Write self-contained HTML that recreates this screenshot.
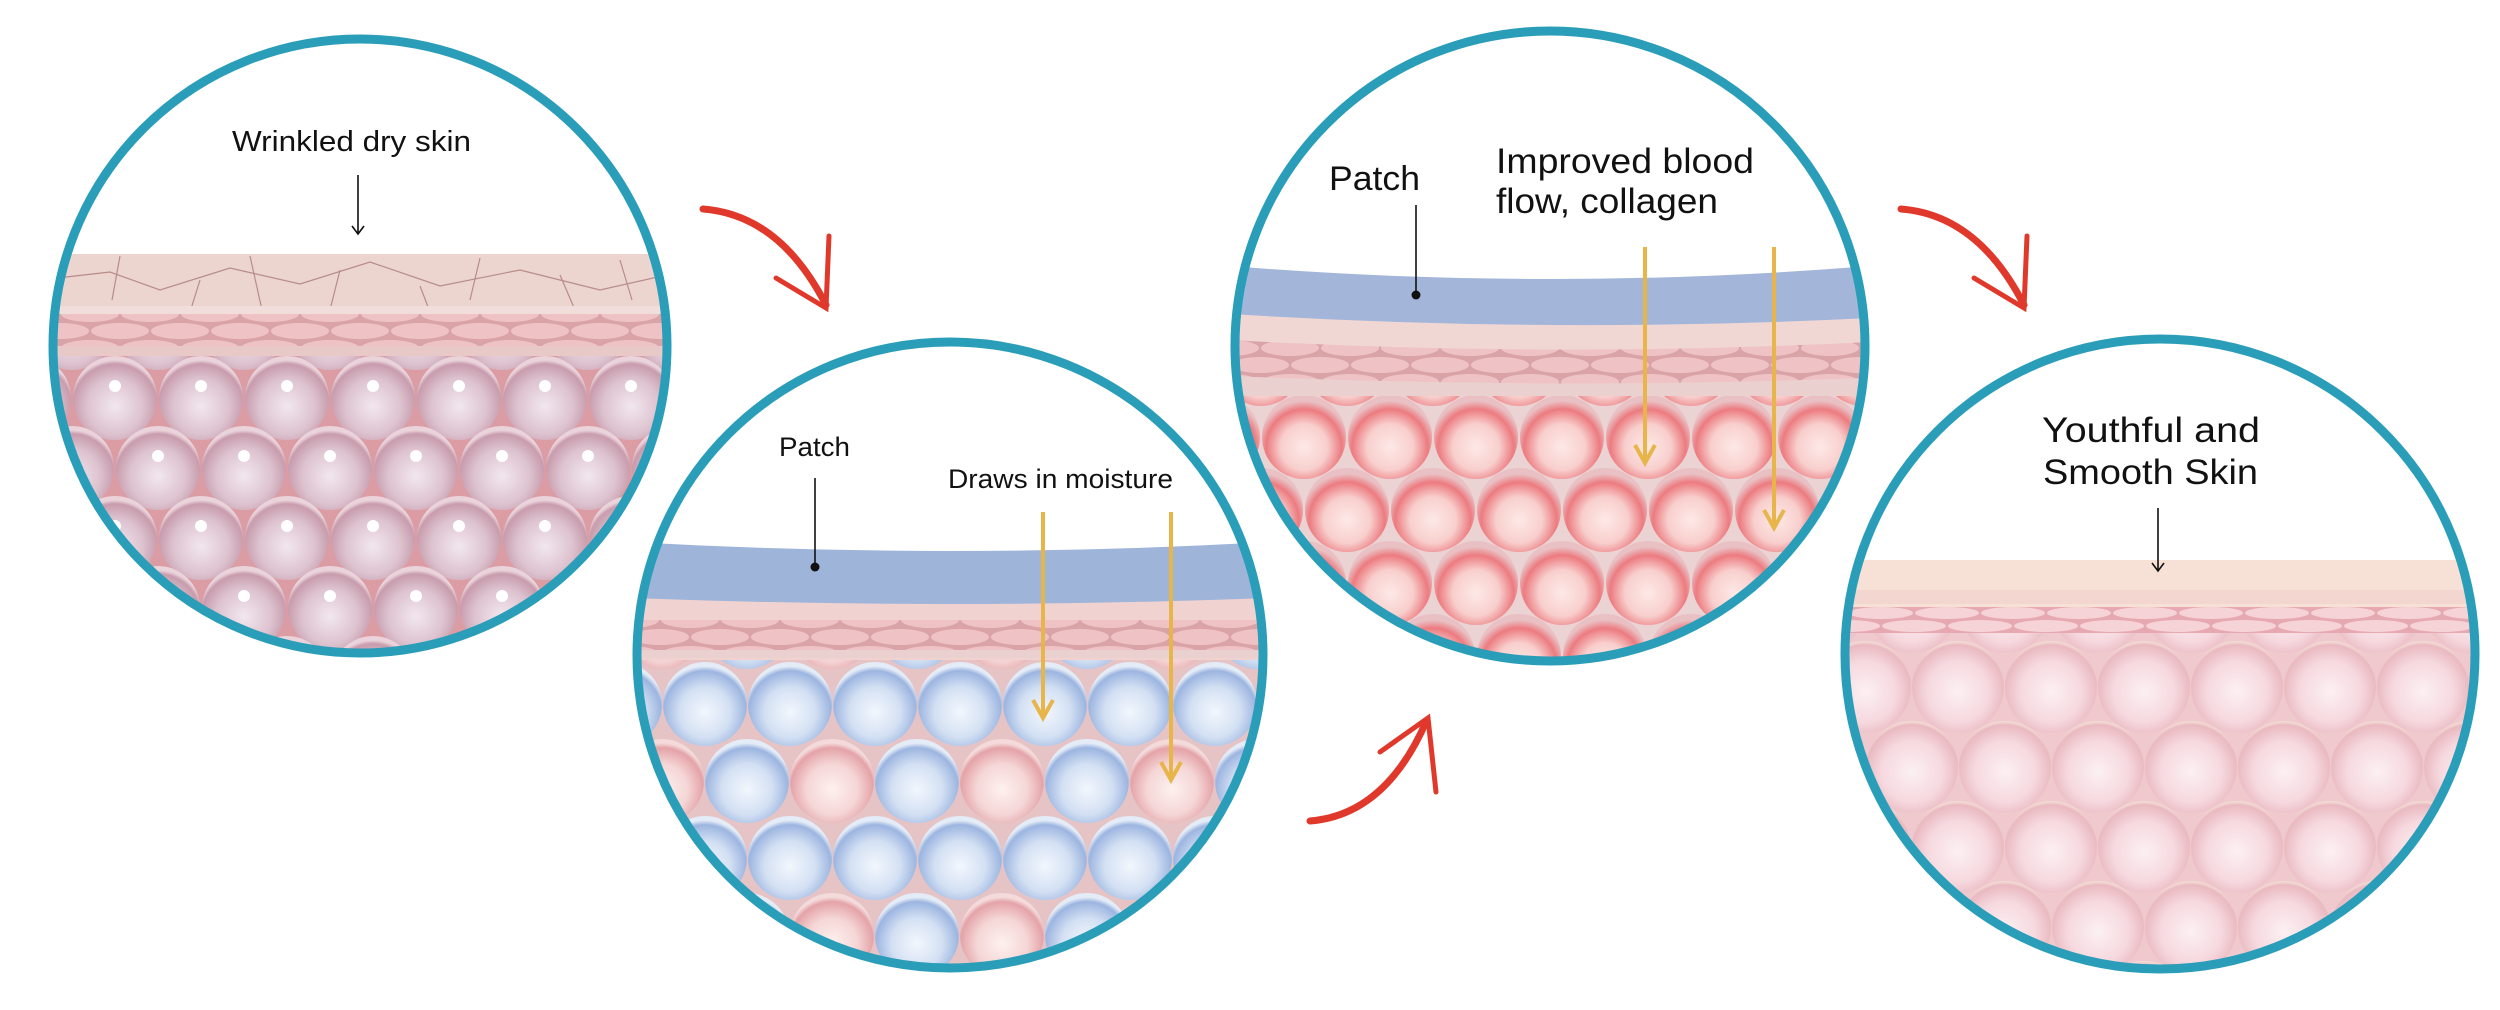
<!DOCTYPE html>
<html><head><meta charset="utf-8"><style>
html,body{margin:0;padding:0;background:#fff}
svg{display:block}
text{font-family:"Liberation Sans",sans-serif;fill:#111}
</style></head><body>
<svg width="2500" height="1010" viewBox="0 0 2500 1010" xmlns="http://www.w3.org/2000/svg">
<defs>
<clipPath id="c1"><circle cx="360" cy="346" r="307"/></clipPath>
<clipPath id="c2"><circle cx="950" cy="655" r="313"/></clipPath>
<clipPath id="c3"><circle cx="1550" cy="346" r="315"/></clipPath>
<clipPath id="c4"><circle cx="2160" cy="654" r="315"/></clipPath>
<radialGradient id="g1" cx=".5" cy=".6" r=".55"><stop offset="0" stop-color="#f2e7ef"/><stop offset=".6" stop-color="#ddc3cf"/><stop offset=".92" stop-color="#c89cad"/><stop offset="1" stop-color="#ead3da"/></radialGradient>
<radialGradient id="gb" cx=".5" cy=".6" r=".55"><stop offset="0" stop-color="#f3f7fd"/><stop offset=".55" stop-color="#d3e0f3"/><stop offset=".9" stop-color="#9cb5e0"/><stop offset="1" stop-color="#e4ecf7"/></radialGradient>
<radialGradient id="gp" cx=".5" cy=".6" r=".55"><stop offset="0" stop-color="#fdf1ef"/><stop offset=".55" stop-color="#f5d6d6"/><stop offset=".9" stop-color="#e4a3a8"/><stop offset="1" stop-color="#f4dadb"/></radialGradient>
<radialGradient id="gr" cx=".5" cy=".62" r=".55"><stop offset="0" stop-color="#fde9e7"/><stop offset=".5" stop-color="#f8cfcd"/><stop offset=".82" stop-color="#ec7b80"/><stop offset="1" stop-color="#e9c0c3"/></radialGradient>
<radialGradient id="g4" cx=".5" cy=".55" r=".55"><stop offset="0" stop-color="#fcf0f2"/><stop offset=".6" stop-color="#f6d9df"/><stop offset=".92" stop-color="#eab9c1"/><stop offset="1" stop-color="#f4e2d8"/></radialGradient>
<pattern id="p1" patternUnits="userSpaceOnUse" x="72" y="356" width="86" height="140">
<rect width="86" height="140" fill="#dc9ca4"/>
<circle cx="0" cy="-28" r="42" fill="url(#g1)"/><circle cx="86" cy="-28" r="42" fill="url(#g1)"/>
<circle cx="43" cy="42" r="42" fill="url(#g1)"/><circle cx="0" cy="112" r="42" fill="url(#g1)"/><circle cx="86" cy="112" r="42" fill="url(#g1)"/>
<circle cx="43" cy="182" r="42" fill="url(#g1)"/>
<circle cx="43" cy="30" r="6" fill="#fff"/><circle cx="0" cy="100" r="6" fill="#fff"/><circle cx="86" cy="100" r="6" fill="#fff"/>
</pattern>
<pattern id="p2" patternUnits="userSpaceOnUse" x="662" y="660" width="170" height="154">
<rect width="170" height="154" fill="#e6c4c6"/>
<circle cx="0" cy="-33" r="42" fill="url(#gp)"/><circle cx="85" cy="-33" r="42" fill="url(#gb)"/><circle cx="170" cy="-33" r="42" fill="url(#gp)"/>
<circle cx="43" cy="44" r="42" fill="url(#gb)"/><circle cx="128" cy="44" r="42" fill="url(#gb)"/>
<circle cx="0" cy="121" r="42" fill="url(#gp)"/><circle cx="85" cy="121" r="42" fill="url(#gb)"/><circle cx="170" cy="121" r="42" fill="url(#gp)"/>
<circle cx="43" cy="198" r="42" fill="url(#gb)"/><circle cx="128" cy="198" r="42" fill="url(#gb)"/>
</pattern>
<pattern id="p3" patternUnits="userSpaceOnUse" x="1261" y="395" width="86" height="146">
<rect width="86" height="146" fill="#ecd3d3"/>
<circle cx="0" cy="-31" r="42" fill="url(#gr)"/><circle cx="86" cy="-31" r="42" fill="url(#gr)"/>
<circle cx="43" cy="42" r="42" fill="url(#gr)"/><circle cx="0" cy="115" r="42" fill="url(#gr)"/><circle cx="86" cy="115" r="42" fill="url(#gr)"/>
<circle cx="43" cy="188" r="42" fill="url(#gr)"/>
</pattern>
<pattern id="p4" patternUnits="userSpaceOnUse" x="1912" y="640" width="93" height="160">
<rect width="93" height="160" fill="#efc9ce"/>
<circle cx="0" cy="-33" r="46" fill="url(#g4)"/><circle cx="93" cy="-33" r="46" fill="url(#g4)"/>
<circle cx="46" cy="47" r="46" fill="url(#g4)"/><circle cx="0" cy="127" r="46" fill="url(#g4)"/><circle cx="93" cy="127" r="46" fill="url(#g4)"/>
<circle cx="46" cy="207" r="46" fill="url(#g4)"/>
</pattern>
<pattern id="cells" patternUnits="userSpaceOnUse" width="60" height="34">
<rect width="60" height="34" fill="#d9a3a8"/>
<ellipse cx="30" cy="8" rx="29" ry="8" fill="#efc3c6"/><ellipse cx="0" cy="25" rx="29" ry="8" fill="#efc3c6"/><ellipse cx="60" cy="25" rx="29" ry="8" fill="#efc3c6"/>
</pattern>
<pattern id="cells4" patternUnits="userSpaceOnUse" x="0" y="607" width="66" height="26">
<rect width="66" height="26" fill="#e7a9b1"/>
<ellipse cx="33" cy="6" rx="32" ry="6" fill="#f6d3d7"/><ellipse cx="0" cy="19" rx="32" ry="6" fill="#f6d3d7"/><ellipse cx="66" cy="19" rx="32" ry="6" fill="#f6d3d7"/>
</pattern>
</defs>

<!-- Circle 1 -->
<g clip-path="url(#c1)">
<rect x="40" y="30" width="640" height="640" fill="#fff"/>
<rect x="40" y="355" width="640" height="320" fill="url(#p1)"/>
<rect x="40" y="254" width="640" height="60" fill="#ecd4cf"/>
<path d="M40 280 L110 272 L160 290 L230 268 L300 284 L370 262 L440 286 L520 270 L600 290 L680 272 M120 256 L112 300 M250 256 L262 310 M340 270 L330 310 M480 258 L470 300 M560 275 L575 310 M200 280 L190 312 M420 286 L430 312 M620 260 L632 300" stroke="#b88c88" stroke-width="1.2" fill="none"/>
<rect x="40" y="306" width="640" height="8" fill="#f1dedb"/>
<rect x="40" y="314" width="640" height="34" fill="url(#cells)"/>
<rect x="40" y="346" width="640" height="10" fill="#e9c9c8"/>
</g>
<circle cx="360" cy="346" r="307" fill="none" stroke="#2a9db8" stroke-width="9"/>
<text x="232" y="151" font-size="29" textLength="239" lengthAdjust="spacingAndGlyphs">Wrinkled dry skin</text>
<path d="M358 175 V234 M352 226 L358 234 L364 226" stroke="#111" stroke-width="1.6" fill="none"/>

<!-- Circle 2 -->
<g clip-path="url(#c2)">
<rect x="630" y="335" width="640" height="640" fill="#fff"/>
<rect x="630" y="650" width="640" height="330" fill="url(#p2)"/>
<path d="M630 542 Q950 560 1270 542 L1270 600 Q950 612 630 600 Z" fill="#9fb4d9"/>
<path d="M630 598 Q950 610 1270 598 L1270 660 L630 660 Z" fill="#f0d3d1"/>
<rect x="630" y="620" width="640" height="32" fill="url(#cells)"/>
<rect x="630" y="650" width="640" height="8" fill="#ead0cf"/>
</g>
<circle cx="950" cy="655" r="313" fill="none" stroke="#2a9db8" stroke-width="9"/>
<text x="779" y="456" font-size="27" textLength="71" lengthAdjust="spacingAndGlyphs">Patch</text>
<path d="M815 478 V566" stroke="#111" stroke-width="1.6"/><circle cx="815" cy="567" r="4.5" fill="#111"/>
<text x="948" y="488" font-size="27" textLength="225" lengthAdjust="spacingAndGlyphs">Draws in moisture</text>
<path d="M1043 512 V718 M1033 700 L1043 718 L1053 700 M1171 512 V780 M1161 762 L1171 780 L1181 762" stroke="#e8b54a" stroke-width="4" fill="none"/>

<!-- Circle 3 -->
<g clip-path="url(#c3)">
<rect x="1230" y="25" width="640" height="640" fill="#fff"/>
<rect x="1230" y="390" width="640" height="280" fill="url(#p3)"/>
<path d="M1230 266 Q1550 292 1870 266 L1870 320 Q1550 336 1230 316 Z" fill="#a3b6da"/>
<path d="M1230 314 Q1550 334 1870 318 L1870 395 L1230 395 Z" fill="#f1d7d4"/>
<path d="M1230 340 Q1550 358 1870 342 L1870 378 Q1550 390 1230 376 Z" fill="url(#cells)"/>
<path d="M1230 376 Q1550 390 1870 378 L1870 396 L1230 396 Z" fill="#ead0ce"/>
</g>
<circle cx="1550" cy="346" r="315" fill="none" stroke="#2a9db8" stroke-width="9"/>
<text x="1329" y="190" font-size="34" textLength="91" lengthAdjust="spacingAndGlyphs">Patch</text>
<path d="M1416 205 V294" stroke="#111" stroke-width="1.6"/><circle cx="1416" cy="295" r="4.5" fill="#111"/>
<text x="1496" y="173" font-size="35" textLength="258" lengthAdjust="spacingAndGlyphs">Improved blood</text>
<text x="1496" y="213" font-size="35" textLength="222" lengthAdjust="spacingAndGlyphs">flow, collagen</text>
<path d="M1645 247 V463 M1635 445 L1645 463 L1655 445 M1774 247 V528 M1764 510 L1774 528 L1784 510" stroke="#e8b54a" stroke-width="4" fill="none"/>

<!-- Circle 4 -->
<g clip-path="url(#c4)">
<rect x="1840" y="335" width="640" height="640" fill="#fff"/>
<rect x="1840" y="630" width="640" height="350" fill="url(#p4)"/>
<rect x="1840" y="560" width="640" height="47" fill="#f7e0d6"/>
<rect x="1840" y="590" width="640" height="14" fill="#f3d6cf"/>
<rect x="1840" y="607" width="640" height="26" fill="url(#cells4)"/>
</g>
<circle cx="2160" cy="654" r="315" fill="none" stroke="#2a9db8" stroke-width="9"/>
<text x="2042" y="442" font-size="35" textLength="218" lengthAdjust="spacingAndGlyphs">Youthful and</text>
<text x="2043" y="484" font-size="35" textLength="215" lengthAdjust="spacingAndGlyphs">Smooth Skin</text>
<path d="M2158 508 V571 M2152 563 L2158 571 L2164 563" stroke="#111" stroke-width="1.6" fill="none"/>

<!-- Red arrows -->
<g stroke="#e0392c" fill="none" stroke-linecap="round">
<path d="M703 209 Q780 215 826 305" stroke-width="7"/>
<path d="M829 236 L826 308 L776 278" stroke-width="5"/>
<path d="M1901 209 Q1978 215 2024 305" stroke-width="7"/>
<path d="M2027 236 L2024 308 L1974 278" stroke-width="5"/>
<path d="M1310 821 Q1385 815 1426 722" stroke-width="7"/>
<path d="M1380 752 L1428 718 L1436 792" stroke-width="5"/>
</g>
</svg>
</body></html>
